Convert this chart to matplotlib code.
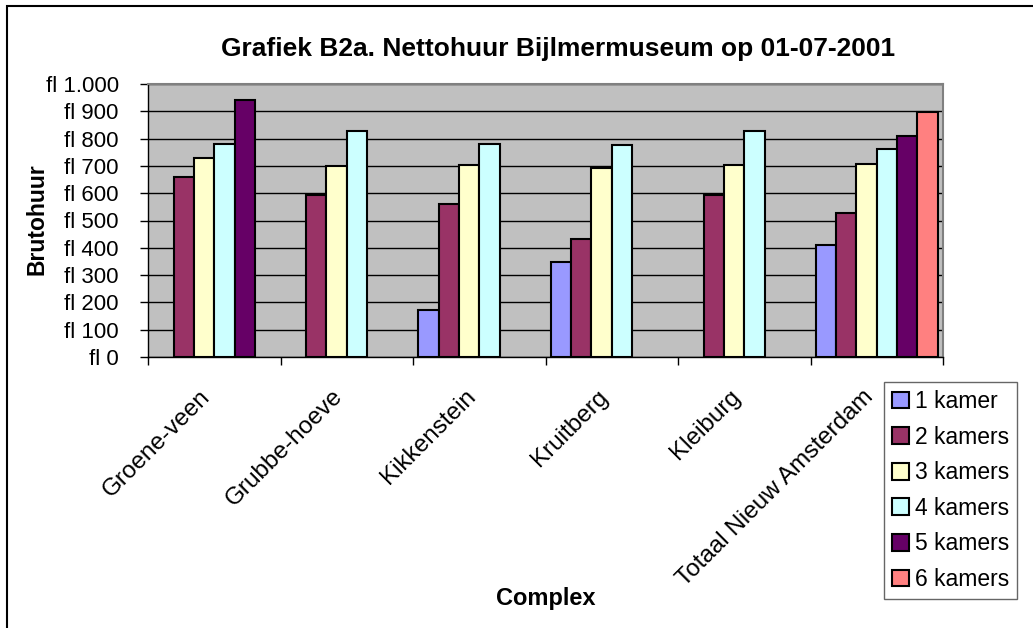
import numpy as np
import matplotlib
matplotlib.use("Agg")
import matplotlib.pyplot as plt
from matplotlib.patches import Rectangle
from matplotlib.ticker import FuncFormatter
from matplotlib.transforms import ScaledTranslation

plt.rcParams["font.family"] = ["Liberation Sans", "DejaVu Sans"]

complexes = ["Groene-veen", "Grubbe-hoeve", "Kikkenstein", "Kruitberg",
             "Kleiburg", "Totaal Nieuw Amsterdam"]
series = ["1 kamer", "2 kamers", "3 kamers", "4 kamers", "5 kamers", "6 kamers"]
colors = ["#9999FF", "#993366", "#FFFFCC", "#CCFFFF", "#660066", "#FF8080"]

nan = np.nan
kamer1 = [nan, nan, 171, 347, nan, 412]
kamer2 = [658, 593, 559, 433, 594, 529]
kamer3 = [729, 699, 702, 694, 703, 707]
kamer4 = [782, 829, 780, 775, 829, 762]
kamer5 = [941, nan, nan, nan, nan, 810]
kamer6 = [nan, nan, nan, nan, nan, 898]
values = [kamer1, kamer2, kamer3, kamer4, kamer5, kamer6]

W, H = 1033, 628
fig = plt.figure(figsize=(W / 100, H / 100), dpi=100)
ax = fig.add_axes([148 / W, 1 - 357 / H, (943 - 148) / W, (357 - 84) / H])
ax.set_facecolor("#C0C0C0")

x = np.arange(len(complexes))
bw = 0.153
for i, (name, vals, col) in enumerate(zip(series, values, colors)):
    ax.bar(x + (i - 2.5) * bw, vals, width=bw, color=col, edgecolor="black",
           linewidth=1.5, label=name, zorder=3)

ax.set_xlim(-0.5, len(complexes) - 0.5)
ax.set_ylim(0, 1000)
ax.set_yticks(np.arange(0, 1001, 100))
ax.yaxis.set_major_formatter(FuncFormatter(lambda v, p: "fl " + f"{int(v):,}".replace(",", ".")))
ax.grid(axis="y", color="black", linewidth=1, zorder=1)

ax.set_xticks(np.arange(-0.5, len(complexes), 1.0))
ax.set_xticklabels([])
ax.set_xticks(x, minor=True)
ax.set_xticklabels(complexes, minor=True, rotation=45, ha="right",
                   rotation_mode="anchor", fontsize=17.5)
ax.tick_params(axis="x", which="minor", length=0, pad=17)
ax.tick_params(axis="x", which="major", length=6, width=1, direction="out")
ax.tick_params(axis="y", length=6, width=1, direction="out", labelsize=16, pad=15)
shift = ScaledTranslation(-0.15, -0.05, fig.dpi_scale_trans)
for lbl in ax.get_xticklabels(minor=True):
    lbl.set_transform(lbl.get_transform() + shift)

for s in ("top", "right"):
    ax.spines[s].set_color("#808080")
    ax.spines[s].set_linewidth(1.5)
for s in ("left", "bottom"):
    ax.spines[s].set_color("black")
    ax.spines[s].set_linewidth(1)

fig.text(37 / W, 1 - 219 / H, "Brutohuur", fontsize=16.5, fontweight="bold",
         rotation=90, ha="center", va="center")
fig.text(546 / W, 1 - 599 / H, "Complex", fontsize=17, fontweight="bold",
         ha="center", va="center")
fig.text(558 / W, 1 - 49 / H, "Grafiek B2a. Nettohuur Bijlmermuseum op 01-07-2001",
         fontsize=19, fontweight="bold", ha="center", va="center")

leg = ax.legend(loc="upper left", bbox_to_anchor=(884 / W, 1 - 382 / H),
                bbox_transform=fig.transFigure, fontsize=16.5, frameon=True,
                fancybox=False, edgecolor="#404040", borderpad=0.35,
                labelspacing=0.55, handlelength=0.75, handleheight=0.75,
                handletextpad=0.25, borderaxespad=0)
leg.get_frame().set_linewidth(1)

fig.patches.append(Rectangle((7 / W, -0.1), 1.2, 1 - 6 / H + 0.1,
                             transform=fig.transFigure, fill=False,
                             edgecolor="black", linewidth=1.5))

fig.savefig("out.png", dpi=100)
